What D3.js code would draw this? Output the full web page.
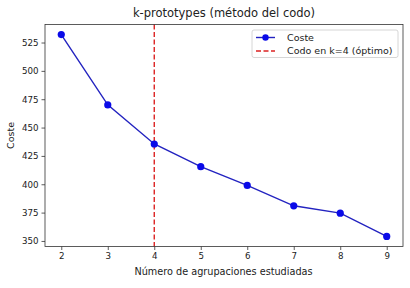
<!DOCTYPE html>
<html>
<head>
<meta charset="utf-8">
<script src="https://cdn.jsdelivr.net/npm/d3@7"></script>
<style>
  body { margin: 0; background: #fff; }
  text { font-family: "DejaVu Sans", sans-serif; fill: #222; }
</style>
</head>
<body>
<div id="chart"></div>
<script>
// data
const clusters = [2, 3, 4, 5, 6, 7, 8, 9]
const coste = [532, 470, 435.5, 415.5, 399, 381, 374.5, 354]
const elbowK = 4
const xTicks = [2, 3, 4, 5, 6, 7, 8, 9]
const yTicks = [350, 375, 400, 425, 450, 475, 500, 525]

const width = 410
const height = 288
const margin = {top: 24.5, right: 7, bottom: 41.5, left: 45}

const svg = d3.select("#chart")
    .append("svg")
    .attr("width", width)
    .attr("height", height)

// matplotlib style 5% padding
const xPad = (d3.max(clusters) - d3.min(clusters)) * 0.05
const yPad = (d3.max(coste) - d3.min(coste)) * 0.05

const x = d3.scaleLinear()
    .domain([d3.min(clusters) - xPad, d3.max(clusters) + xPad])
    .range([margin.left, width - margin.right])

const y = d3.scaleLinear()
    .domain([d3.min(coste) - yPad, d3.max(coste) + yPad])
    .range([height - margin.bottom, margin.top])

const layer_x_axis = svg.append("g")
const layer_y_axis = svg.append("g")
const layer_plot = svg.append("g")
const layer_frame = svg.append("g")
const layer_legend = svg.append("g")

layer_x_axis
    .attr("transform", `translate(0,${height - margin.bottom})`)
    .call(d3.axisBottom(x).tickValues(xTicks).tickSize(3.5).tickPadding(3).tickSizeOuter(0))
layer_y_axis
    .attr("transform", `translate(${margin.left},0)`)
    .call(d3.axisLeft(y).tickValues(yTicks).tickSize(3.5).tickPadding(3).tickSizeOuter(0))

svg.selectAll(".domain").remove()
svg.selectAll(".tick line").attr("stroke", "#333").attr("stroke-width", 0.8)
svg.selectAll(".tick text")
    .style("font-family", "DejaVu Sans")
    .style("font-size", "8.7px")
    .attr("fill", "#222")

layer_frame.append("rect")
    .attr("x", margin.left)
    .attr("y", margin.top)
    .attr("width", width - margin.left - margin.right)
    .attr("height", height - margin.top - margin.bottom)
    .attr("fill", "none")
    .attr("stroke", "#333")
    .attr("stroke-width", 0.8)

// elbow line
layer_plot.append("line")
    .attr("x1", x(elbowK)).attr("x2", x(elbowK))
    .attr("y1", margin.top).attr("y2", height - margin.bottom)
    .attr("stroke", "#dc2222")
    .attr("stroke-width", 1.4)
    .attr("stroke-dasharray", "5,2.5")

const pts = clusters.map((k, i) => [k, coste[i]])

layer_plot.append("path")
    .datum(pts)
    .attr("fill", "none")
    .attr("stroke", "#2323c0")
    .attr("stroke-width", 1.4)
    .attr("d", d3.line().x(d => x(d[0])).y(d => y(d[1])))

layer_plot.selectAll("circle")
    .data(pts)
    .join("circle")
    .attr("cx", d => x(d[0]))
    .attr("cy", d => y(d[1]))
    .attr("r", 3.6)
    .attr("fill", "#0a0ae8")

// title and labels
svg.append("text")
    .attr("x", (margin.left + width - margin.right) / 2)
    .attr("y", 17)
    .attr("text-anchor", "middle")
    .style("font-size", "11.5px")
    .text("k-prototypes (método del codo)")

svg.append("text")
    .attr("x", (margin.left + width - margin.right) / 2 - 0.5)
    .attr("y", 275)
    .attr("text-anchor", "middle")
    .style("font-size", "9.7px")
    .text("Número de agrupaciones estudiadas")

svg.append("text")
    .attr("transform", `translate(14,${(margin.top + height - margin.bottom) / 2}) rotate(-90)`)
    .attr("text-anchor", "middle")
    .style("font-size", "9.5px")
    .text("Coste")

// legend
layer_legend.attr("transform", "translate(252,30)")
layer_legend.append("rect")
    .attr("width", 146).attr("height", 27.5)
    .attr("rx", 2)
    .attr("fill", "#fff")
    .attr("fill-opacity", 0.85)
    .attr("stroke", "#ccc")
    .attr("stroke-width", 0.8)
layer_legend.append("line")
    .attr("x1", 4).attr("x2", 23).attr("y1", 7.5).attr("y2", 7.5)
    .attr("stroke", "#2323c0").attr("stroke-width", 1.4)
layer_legend.append("circle")
    .attr("cx", 13.5).attr("cy", 7.5).attr("r", 3.2).attr("fill", "#0a0ae8")
layer_legend.append("text")
    .attr("x", 35).attr("y", 11)
    .style("font-size", "9.5px")
    .text("Coste")
layer_legend.append("line")
    .attr("x1", 4).attr("x2", 23).attr("y1", 21).attr("y2", 21)
    .attr("stroke", "#dc2222").attr("stroke-width", 1.4)
    .attr("stroke-dasharray", "5,2.5")
layer_legend.append("text")
    .attr("x", 35).attr("y", 24.4)
    .style("font-size", "9.5px")
    .text("Codo en k=" + elbowK + " (óptimo)")
</script>
</body>
</html>
